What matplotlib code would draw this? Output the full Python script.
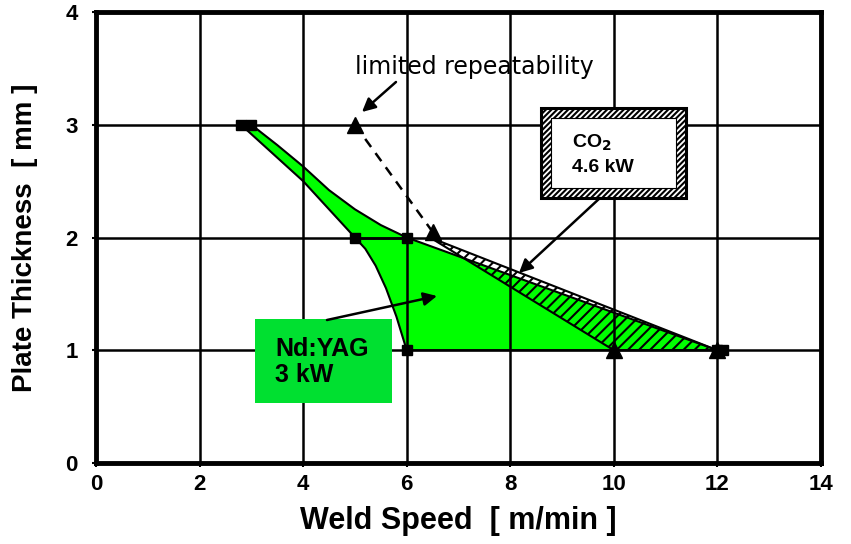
import matplotlib
matplotlib.use("Agg")
import matplotlib.pyplot as plt
from matplotlib.patches import Polygon, Rectangle

# ---- data ----
ndyag_speed = [2.8, 3.0, 5.0, 6.0, 6.0, 12.0, 12.1]
ndyag_thick = [3, 3, 2, 2, 1, 1, 1]

co2_speed = [5.0, 6.5, 10.0, 12.0]
co2_thick = [3.0, 2.05, 1.0, 1.0]

# Nd:YAG process window outline (upper curve, then lower curve back)
ndyag_upper_x = [2.8, 3.0, 3.5, 4.0, 4.5, 5.0, 5.5, 6.0, 12.0]
ndyag_upper_y = [3.0, 3.0, 2.82, 2.63, 2.42, 2.25, 2.11, 2.0, 1.0]
ndyag_lower_x = [12.0, 6.0, 5.8, 5.6, 5.4, 5.2, 5.0, 4.0, 2.8]
ndyag_lower_y = [1.0, 1.0, 1.3, 1.55, 1.75, 1.9, 2.0, 2.5, 3.0]

# CO2 process window outline
co2_win_x = [6.45, 12.0, 10.0]
co2_win_y = [2.0, 1.0, 1.0]

xticks = [0, 2, 4, 6, 8, 10, 12, 14]
yticks = [0, 1, 2, 3, 4]

plt.rcParams["hatch.linewidth"] = 1.5

W, H = 851, 544
fig = plt.figure(figsize=(W / 100, H / 100), dpi=100)
ax = fig.add_axes([96 / W, 1 - 463 / H, (821 - 96) / W, (463 - 12) / H])
ax.set_xlim(0, 14)
ax.set_ylim(0, 4)

ax.set_axisbelow(False)
ax.grid(True, color="black", lw=1.8, zorder=2.5)

# Nd:YAG polygon
pts = list(zip(ndyag_upper_x, ndyag_upper_y)) + list(zip(ndyag_lower_x, ndyag_lower_y))
ax.add_patch(Polygon(pts, closed=True, facecolor="#00ff00", edgecolor="black", lw=1.5, zorder=1))
# CO2 hatched window
ax.add_patch(Polygon(list(zip(co2_win_x, co2_win_y)), closed=True, facecolor="none",
                     edgecolor="black", hatch="///", lw=1.5, zorder=1.5))

# connecting line between 5,2 and 6,2
ax.plot([5, 6], [2, 2], color="black", lw=1.8, zorder=2.6)
# dashed limited-repeatability line
ax.plot(co2_speed[:2], co2_thick[:2], color="black", lw=1.8, ls=(0, (4, 3)), zorder=2.6)

ax.plot(ndyag_speed, ndyag_thick, ls="none", marker="s", ms=7, color="black", zorder=4)
ax.plot(co2_speed, co2_thick, ls="none", marker="^", ms=11, color="black", zorder=4)

for s in ax.spines.values():
    s.set_linewidth(3.5)

ax.set_xticks(xticks)
ax.set_yticks(yticks)
tickfont = dict(family=["Liberation Sans", "DejaVu Sans"], weight="bold", size=16)
ax.set_xticklabels([str(t) for t in xticks], fontdict=tickfont)
ax.set_yticklabels([str(t) for t in yticks], fontdict=tickfont)
ax.tick_params(axis="x", direction="out", length=3, width=1.5, pad=5)
ax.tick_params(axis="y", direction="out", length=3, width=1.5, pad=10)

ax.set_xlabel("Weld Speed  [ m/min ]", fontsize=22, fontweight="bold",
              family=["Liberation Sans", "DejaVu Sans"], labelpad=8)
ax.set_ylabel("Plate Thickness  [ mm ]", fontsize=20, fontweight="bold",
              family=["Liberation Sans", "DejaVu Sans"], labelpad=20)

def px(x, y):
    return ((x - 96) / 51.79, (463 - y) / 112.75)

# limited repeatability
ax.text(*px(474, 67), "limited repeatability", ha="center", va="center", fontsize=17,
        family=["DejaVu Sans"], zorder=5)
ax.annotate("", xy=px(362, 112), xytext=px(396, 82),
            arrowprops=dict(arrowstyle="-|>,head_length=0.8,head_width=0.4", color="black", lw=1.8,
                            shrinkA=0, shrinkB=0), zorder=5)

# Nd:YAG label box
x0, y0 = px(255, 403)
x1, y1 = px(392, 319)
ax.add_patch(Rectangle((x0, y0), x1 - x0, y1 - y0, facecolor="#00e030", edgecolor="none", zorder=3))
ax.text(*px(275, 362), "Nd:YAG\n3 kW", ha="left", va="center", fontsize=18, fontweight="bold",
        family=["Liberation Sans", "DejaVu Sans"], linespacing=1.15, zorder=5)
ax.annotate("", xy=px(437, 296), xytext=px(327, 320),
            arrowprops=dict(arrowstyle="-|>,head_length=0.8,head_width=0.4", color="black", lw=1.8,
                            shrinkA=0, shrinkB=0), zorder=5)

# CO2 label box (hatched frame)
bx0, by0 = px(541, 198)
bx1, by1 = px(686, 108)
ax.add_patch(Rectangle((bx0, by0), bx1 - bx0, by1 - by0, facecolor="white", edgecolor="black",
                       hatch="//////", lw=2.2, zorder=3))
ix0, iy0 = px(551, 188)
ix1, iy1 = px(676, 118)
ax.add_patch(Rectangle((ix0, iy0), ix1 - ix0, iy1 - iy0, facecolor="white", edgecolor="black",
                       lw=0.8, zorder=3.1))
ax.text(*px(572, 143), "CO$_\\mathbf{2}$", ha="left", va="center", fontsize=14,
        fontweight="bold", family=["Liberation Sans", "DejaVu Sans"], zorder=5)
ax.text(*px(572, 168), "4.6 kW", ha="left", va="center", fontsize=14,
        fontweight="bold", family=["Liberation Sans", "DejaVu Sans"], zorder=5)
ax.annotate("", xy=px(519, 273), xytext=px(600, 198),
            arrowprops=dict(arrowstyle="-|>,head_length=0.8,head_width=0.4", color="black", lw=1.8,
                            shrinkA=0, shrinkB=0), zorder=5)

fig.savefig("out.png", dpi=100)
